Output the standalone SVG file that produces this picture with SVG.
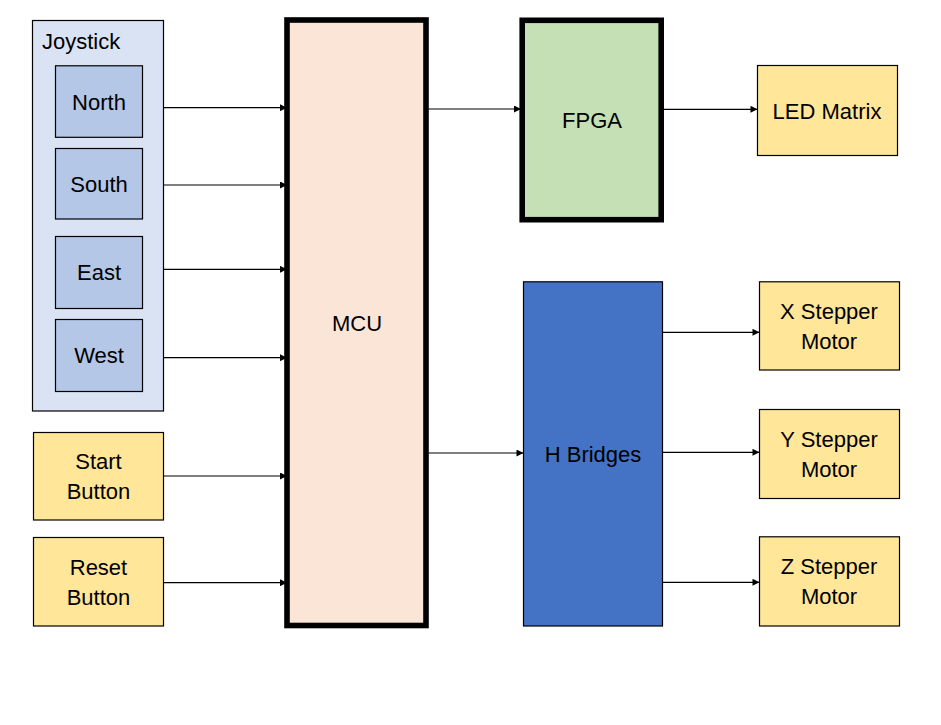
<svg xmlns="http://www.w3.org/2000/svg" width="941" height="725" viewBox="0 0 941 725">
<defs>
<marker id="arr" viewBox="0 0 10 10" refX="10" refY="5" markerWidth="9" markerHeight="7" markerUnits="userSpaceOnUse" orient="auto">
<path d="M0,0 L10,5 L0,10 z" fill="#000"/>
</marker>
<style>
text{font-family:"Liberation Sans",Arial,sans-serif;font-size:22px;fill:#000;text-anchor:middle}
.thin{stroke:#000;stroke-width:1.2}
.thick{stroke:#000;stroke-width:5.6}
.jo{fill:#DAE3F3}
.ji{fill:#B4C7E7}
.ye{fill:#FFE699}
.conn line{stroke:#000;stroke-width:1.2;marker-end:url(#arr)}
</style>
</defs>
<rect width="941" height="725" fill="#fff"/>
<g id="joystick">
<rect class="jo thin" x="32.5" y="20.5" width="131" height="390.5"/>
<text x="42" y="49" style="text-anchor:start">Joystick</text>
</g>
<g id="north"><rect class="ji thin" x="55.5" y="65.8" width="87" height="71.5"/><text x="99" y="110">North</text></g>
<g id="south"><rect class="ji thin" x="55.5" y="148.5" width="87" height="70.5"/><text x="99" y="192">South</text></g>
<g id="east"><rect class="ji thin" x="55.5" y="236.5" width="87" height="72"/><text x="99" y="280">East</text></g>
<g id="west"><rect class="ji thin" x="55.5" y="319.5" width="87" height="72"/><text x="99" y="363">West</text></g>
<g id="start"><rect class="ye thin" x="33.5" y="432.5" width="130" height="87.5"/><text x="98.5" y="469">Start</text><text x="98.5" y="499">Button</text></g>
<g id="reset"><rect class="ye thin" x="33.5" y="537.5" width="130" height="88.5"/><text x="98.5" y="574.5">Reset</text><text x="98.5" y="604.5">Button</text></g>
<g id="mcu"><rect class="thick" fill="#FBE5D6" x="287" y="20" width="139" height="605.5"/><text x="357" y="331">MCU</text></g>
<g id="fpga"><rect class="thick" fill="#C5E0B4" x="522.2" y="20.3" width="139" height="199.4"/><text x="592" y="127.5">FPGA</text></g>
<g id="led"><rect class="ye thin" x="757.5" y="65.5" width="140" height="90"/><text x="827" y="118.5">LED Matrix</text></g>
<g id="hbridges"><rect class="thin" fill="#4472C4" x="523.5" y="281.8" width="139" height="344.2"/><text x="593" y="462">H Bridges</text></g>
<g id="xmotor"><rect class="ye thin" x="759.5" y="281.8" width="140" height="88.2"/><text x="829" y="319">X Stepper</text><text x="829" y="348.5">Motor</text></g>
<g id="ymotor"><rect class="ye thin" x="759.5" y="409.5" width="140" height="89"/><text x="829" y="447">Y Stepper</text><text x="829" y="477">Motor</text></g>
<g id="zmotor"><rect class="ye thin" x="759.5" y="536.8" width="140" height="89.2"/><text x="829" y="574">Z Stepper</text><text x="829" y="603.5">Motor</text></g>
<g class="conn" id="connectors">
<line x1="163.5" y1="107.7" x2="287" y2="107.7"/>
<line x1="163.5" y1="185" x2="287" y2="185"/>
<line x1="163.5" y1="269.3" x2="287" y2="269.3"/>
<line x1="163.5" y1="357.7" x2="287" y2="357.7"/>
<line x1="163.5" y1="476" x2="287" y2="476"/>
<line x1="163.5" y1="582.7" x2="287" y2="582.7"/>
<line x1="428.5" y1="109" x2="521" y2="109"/>
<line x1="664" y1="109.3" x2="757.5" y2="109.3"/>
<line x1="428.5" y1="453" x2="523.5" y2="453"/>
<line x1="662.5" y1="332.3" x2="759.5" y2="332.3"/>
<line x1="662.5" y1="452.3" x2="759.5" y2="452.3"/>
<line x1="662.5" y1="582.3" x2="759.5" y2="582.3"/>
</g>
</svg>
